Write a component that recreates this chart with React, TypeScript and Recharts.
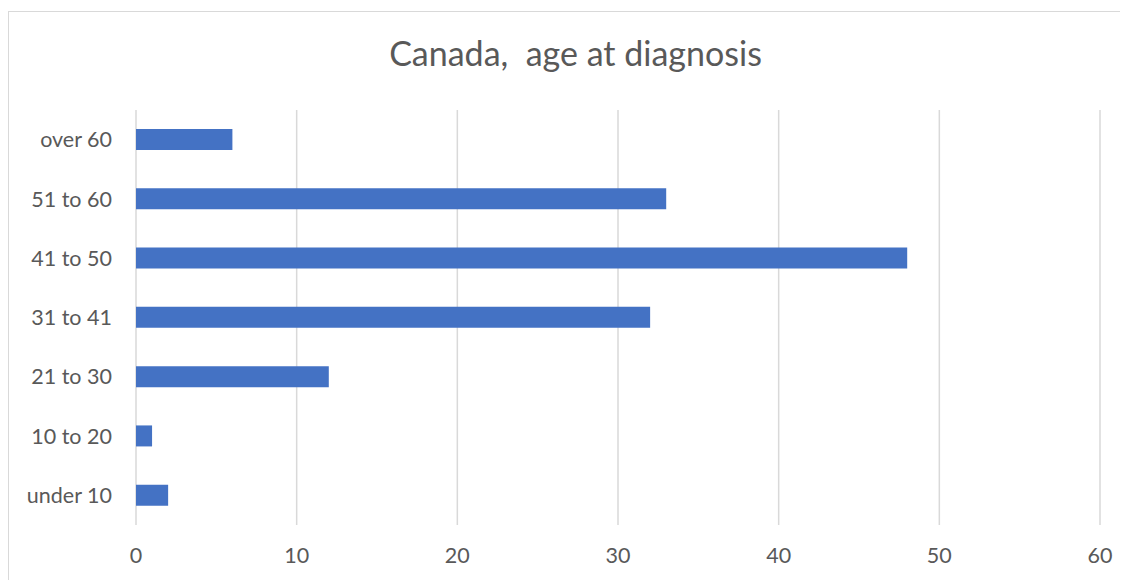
import { Bar, BarChart, CartesianGrid, XAxis, YAxis } from "recharts";

const ageGroups = [
  "over 60",
  "51 to 60",
  "41 to 50",
  "31 to 41",
  "21 to 30",
  "10 to 20",
  "under 10",
];
const counts = [6, 33, 48, 32, 12, 1, 2];
const xTicks = [0, 10, 20, 30, 40, 50, 60];

const FONT = "Lato, 'Open Sans', sans-serif";
const TEXT = "#595959";

// Horizontal bar chart of diagnosis age groups, Excel style.
export default function App() {
  const data = ageGroups.map((g, i) => ({ group: g, count: counts[i] }));

  return (
    <div
      style={{
        position: "relative",
        marginTop: 3,
        width: 1125,
        height: 575,
        border: "1px solid #d9d9d9",
        background: "#fff",
        fontFamily: FONT,
      }}
    >
      <div
        style={{
          position: "absolute",
          top: 21,
          left: 0,
          width: 1133,
          textAlign: "center",
          fontSize: 34,
          lineHeight: 1.2,
          color: TEXT,
          whiteSpace: "pre",
        }}
      >
        Canada,  age at diagnosis
      </div>
      <BarChart
        width={1120}
        height={570}
        data={data}
        layout="vertical"
        margin={{ top: 98, right: 29, bottom: 0, left: 0 }}
      >
        <CartesianGrid horizontal={false} stroke="#d9d9d9" strokeWidth={1.5} />
        <XAxis
          type="number"
          domain={[0, 60]}
          ticks={xTicks}
          axisLine={false}
          tickLine={false}
          tickSize={0}
          tickMargin={23}
          height={57}
          tick={{ fill: TEXT, fontSize: 21.5, fontFamily: FONT }}
        />
        <YAxis
          type="category"
          dataKey="group"
          width={127}
          axisLine={false}
          tickLine={false}
          tickSize={0}
          tickMargin={24}
          tick={{ fill: TEXT, fontSize: 21.5, fontFamily: FONT }}
        />
        <Bar dataKey="count" fill="#4472c4" barSize={21} isAnimationActive={false} />
      </BarChart>
    </div>
  );
}
